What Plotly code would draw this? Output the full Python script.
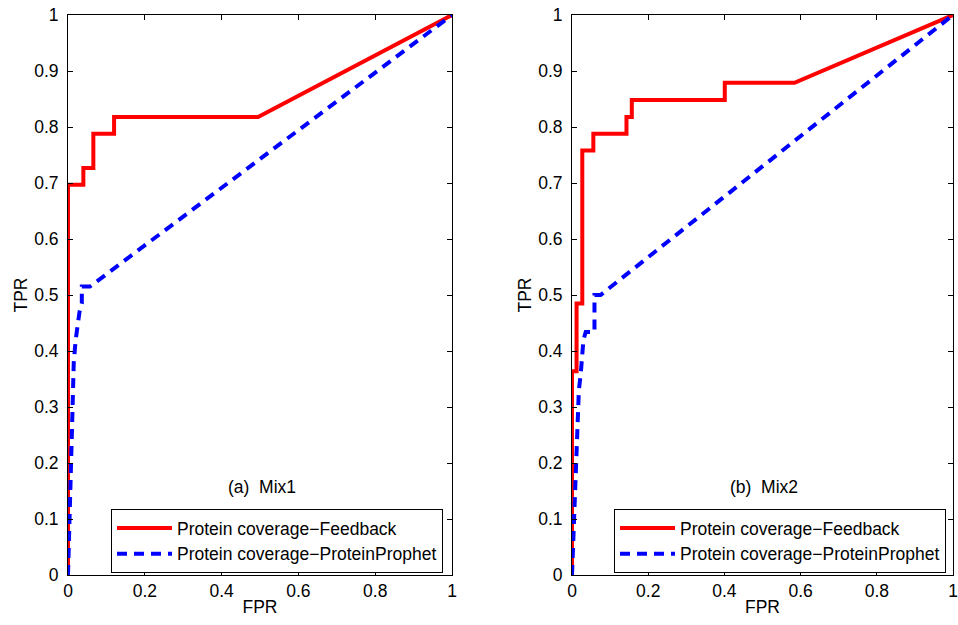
import plotly.graph_objects as go

# Panel (a) Mix1
mix1_fb_fpr = [0, 0, 0.040, 0.040, 0.066, 0.066, 0.120, 0.120, 0.495, 1.0]
mix1_fb_tpr = [0, 0.697, 0.697, 0.727, 0.727, 0.788, 0.788, 0.818, 0.818, 1.0]
mix1_pp_fpr = [0, 0.005, 0.010, 0.015, 0.020, 0.030, 0.036, 0.036, 0.057, 1.0]
mix1_pp_tpr = [0, 0.10, 0.25, 0.38, 0.42, 0.47, 0.485, 0.515, 0.515, 1.0]

# Panel (b) Mix2
mix2_fb_fpr = [0, 0, 0.012, 0.012, 0.027, 0.027, 0.056, 0.056, 0.143, 0.143,
               0.157, 0.157, 0.401, 0.401, 0.584, 1.0]
mix2_fb_tpr = [0, 0.364, 0.364, 0.485, 0.485, 0.758, 0.758, 0.788, 0.788, 0.818,
               0.818, 0.848, 0.848, 0.879, 0.879, 1.0]
mix2_pp_fpr = [0, 0.005, 0.012, 0.018, 0.023, 0.030, 0.036, 0.059, 0.059, 0.075, 1.0]
mix2_pp_tpr = [0, 0.10, 0.23, 0.33, 0.36, 0.42, 0.434, 0.434, 0.50, 0.50, 1.0]

series_names = ["Protein coverage\u2212Feedback", "Protein coverage\u2212ProteinProphet"]
panel_labels = ["(a)  Mix1", "(b)  Mix2"]
x_ticks = [0, 0.2, 0.4, 0.6, 0.8, 1]
y_ticks = [0, 0.1, 0.2, 0.3, 0.4, 0.5, 0.6, 0.7, 0.8, 0.9, 1]

FONT = "Liberation Sans, Arial, Helvetica, sans-serif"
FS = 17.5
RED = "#ff0000"
BLUE = "#0000ff"

fig = go.Figure()

panels = [
    (mix1_fb_fpr, mix1_fb_tpr, mix1_pp_fpr, mix1_pp_tpr, "x", "y", "legend"),
    (mix2_fb_fpr, mix2_fb_tpr, mix2_pp_fpr, mix2_pp_tpr, "x2", "y2", "legend2"),
]
for fbx, fby, ppx, ppy, xa, ya, lg in panels:
    fig.add_trace(go.Scatter(x=fbx, y=fby, mode="lines", name=series_names[0],
                             line=dict(color=RED, width=4), xaxis=xa, yaxis=ya,
                             legend=lg))
    fig.add_trace(go.Scatter(x=ppx, y=ppy, mode="lines", name=series_names[1],
                             line=dict(color=BLUE, width=4, dash="10px,7px"),
                             xaxis=xa, yaxis=ya, legend=lg))

axis_common = dict(
    range=[0, 1], showgrid=False, zeroline=False, showline=True,
    linecolor="black", linewidth=1, mirror="ticks", ticks="inside",
    ticklen=5, tickcolor="black", tickwidth=1,
    tickfont=dict(family=FONT, size=FS, color="black"),
    ticklabeloverflow="allow",
    automargin=False,
)

# body margin is removed in the page, so figure coordinates = page coordinates
W, H = 958, 625
xdom1 = [68 / W, 452 / W]
xdom2 = [572 / W, 953 / W]
ydom = [(H - 575) / H, (H - 15) / H]

legend_common = dict(
    yanchor="middle", xanchor="right", y=(H - 541) / H,
    bordercolor="black", borderwidth=1, bgcolor="white",
    font=dict(family=FONT, size=FS), tracegroupgap=0, itemwidth=55,
)

fig.update_layout(
    width=W, height=H,
    margin=dict(l=0, r=0, t=0, b=0),
    paper_bgcolor="white", plot_bgcolor="white",
    font=dict(family=FONT, size=FS, color="black"),
    xaxis=dict(axis_common, domain=xdom1, tickvals=x_ticks, anchor="y",
               title=dict(text="FPR", standoff=0, font=dict(size=FS))),
    yaxis=dict(axis_common, domain=ydom, tickvals=y_ticks, anchor="x",
               ticklabelstandoff=5,
               title=dict(text="TPR", standoff=2, font=dict(size=FS))),
    xaxis2=dict(axis_common, domain=xdom2, tickvals=x_ticks, anchor="y2",
                title=dict(text="FPR", standoff=0, font=dict(size=FS))),
    yaxis2=dict(axis_common, domain=ydom, tickvals=y_ticks, anchor="x2",
                ticklabelstandoff=5,
                title=dict(text="TPR", standoff=2, font=dict(size=FS))),
    legend=dict(legend_common, x=443 / W),
    legend2=dict(legend_common, x=946 / W),
    showlegend=True,
)

for lbl, xr, yr in zip(panel_labels, ["x", "x2"], ["y", "y2"]):
    fig.add_annotation(text=lbl, x=0.505, y=0.157, xref=xr, yref=yr,
                       showarrow=False, font=dict(family=FONT, size=FS, color="black"))

fig.write_html("out.html",
               config={"displayModeBar": False},
               post_script="document.body.style.margin='0';document.body.style.overflow='hidden';")
